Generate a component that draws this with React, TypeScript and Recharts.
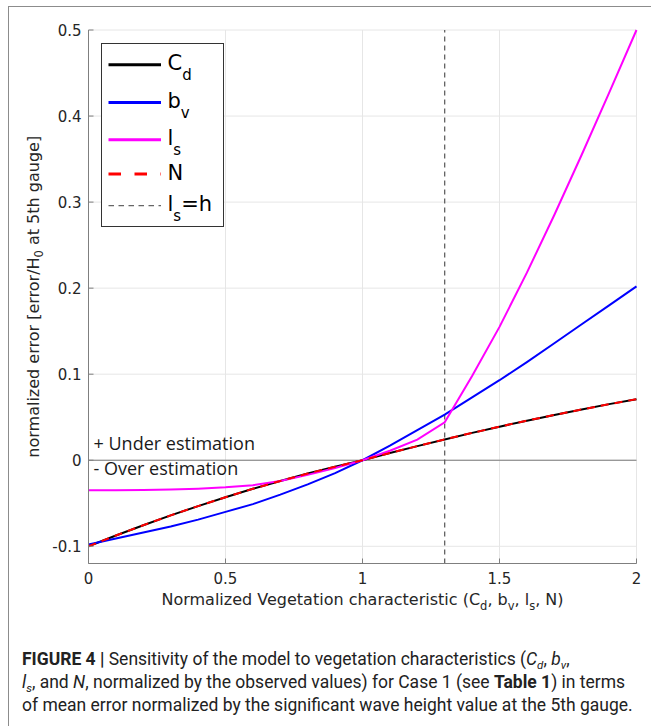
import { CartesianGrid, Legend, Line, LineChart, ReferenceLine, XAxis, YAxis } from "recharts";

// normalized vegetation characteristic (x) and mean error normalized by H0 at the 5th gauge
const xs = [0, 0.1, 0.2, 0.3, 0.4, 0.5, 0.6, 0.7, 0.8, 0.9, 1, 1.1, 1.2, 1.3, 1.4, 1.5, 1.6, 1.7, 1.8, 1.9, 2];
const cd = [-0.1, -0.0875, -0.0755, -0.0641, -0.0533, -0.043, -0.0332, -0.0241, -0.0155, -0.0075, 0, 0.0084, 0.0164, 0.0242, 0.0318, 0.039, 0.046, 0.0526, 0.059, 0.0652, 0.071];
const bv = [-0.098, -0.091, -0.084, -0.077, -0.069, -0.06, -0.051, -0.04, -0.028, -0.015, 0, 0.017, 0.035, 0.053, 0.073, 0.093, 0.114, 0.136, 0.158, 0.18, 0.202];
const ls = [-0.035, -0.035, -0.0345, -0.034, -0.033, -0.0315, -0.029, -0.024, -0.017, -0.009, 0, 0.011, 0.024, 0.044, 0.098, 0.155, 0.218, 0.285, 0.355, 0.427, 0.5];
const nv = [-0.1, -0.0875, -0.0755, -0.0641, -0.0533, -0.043, -0.0332, -0.0241, -0.0155, -0.0075, 0, 0.0084, 0.0164, 0.0242, 0.0318, 0.039, 0.046, 0.0526, 0.059, 0.0652, 0.071];

const xTicks = [0, 0.5, 1, 1.5, 2];
const yTicks = [-0.1, 0, 0.1, 0.2, 0.3, 0.4, 0.5];
const lsEqualsH = 1.3;

const data = xs.map((x, i) => ({ x, cd: cd[i], bv: bv[i], ls: ls[i], n: nv[i] }));

const FONT = "DejaVu Sans";
const INK = "#262626";
const BOX = "#7f7f7f";

function BottomTick({ x, y, payload }: any) {
  return (
    <g>
      <line x1={x} y1={y} x2={x} y2={y - 5} stroke={BOX} />
      <text x={x} y={y + 20.5} textAnchor="middle" fontSize={15} fontFamily={FONT} fill={INK}>
        {payload.value}
      </text>
    </g>
  );
}

function LeftTick({ x, y, payload }: any) {
  return (
    <g>
      <line x1={x} y1={y} x2={x + 5} y2={y} stroke={BOX} />
      <text x={x - 7} y={y + 5.5} textAnchor="end" fontSize={15} fontFamily={FONT} fill={INK}>
        {payload.value}
      </text>
    </g>
  );
}

const TopTick = ({ x, y }: any) => <line x1={x} y1={y} x2={x} y2={y + 5} stroke={BOX} />;
const RightTick = ({ x, y }: any) => <line x1={x} y1={y} x2={x - 5} y2={y} stroke={BOX} />;

function XLabel({ viewBox }: any) {
  return (
    <text x={viewBox.x + viewBox.width / 2} y={viewBox.y + 41.5} textAnchor="middle" fontSize={16} fontFamily={FONT} fill={INK}>
      Normalized Vegetation characteristic (C
      <tspan fontSize={11.5} dy={4.5}>d</tspan>
      <tspan dy={-4.5}>, b</tspan>
      <tspan fontSize={11.5} dy={4.5}>v</tspan>
      <tspan dy={-4.5}>, l</tspan>
      <tspan fontSize={11.5} dy={4.5}>s</tspan>
      <tspan dy={-4.5}>, N)</tspan>
    </text>
  );
}

function YLabel({ viewBox }: any) {
  const cx = viewBox.x + 10;
  const cy = viewBox.y + viewBox.height / 2;
  return (
    <text x={cx} y={cy} transform={`rotate(-90, ${cx}, ${cy})`} textAnchor="middle" fontSize={16} fontFamily={FONT} fill={INK}>
      normalized error [error/H
      <tspan fontSize={11.5} dy={4.5}>0</tspan>
      <tspan dy={-4.5}> at 5th gauge]</tspan>
    </text>
  );
}

function ZeroNotes({ viewBox }: any) {
  const x = viewBox.x + 5;
  const y = viewBox.y;
  return (
    <g fontFamily="Open Sans" fontSize={18} fill="#1a1a1a">
      <text x={x} y={y - 10}>+ Under estimation</text>
      <text x={x} y={y + 15}>- Over estimation</text>
    </g>
  );
}

const legendOrder = ["cd", "bv", "ls", "n"];
const legendNames: Record<string, [string, string, string]> = {
  cd: ["C", "d", ""],
  bv: ["b", "v", ""],
  ls: ["l", "s", ""],
  n: ["N", "", ""],
};
const legendRowY = [20.7, 58.4, 95.7, 130, 161.7];

function renderLegend(props: any) {
  const payload = [...(props.payload || [])].sort(
    (a: any, b: any) => legendOrder.indexOf(a.dataKey) - legendOrder.indexOf(b.dataKey)
  );
  const rows = payload.map((p: any) => ({
    name: legendNames[p.dataKey] || [String(p.value), "", ""],
    color: p.color,
    dash: p.dataKey === "n" ? "12.5 13.5" : undefined,
    width: 3,
  }));
  rows.push({ name: ["l", "s", "=h"], color: "#666666", dash: "5.5 4.5", width: 1.2 });
  return (
    <div style={{ border: "1.3px solid #333", background: "#fff", width: 121, height: 182 }}>
      <svg width={121} height={182}>
        {rows.map((r: any, i: number) => {
          const y = legendRowY[i];
          return (
            <g key={i}>
              <line x1={6.5} x2={59} y1={y} y2={y} stroke={r.color} strokeWidth={r.width} strokeDasharray={r.dash} />
              <text x={65.5} y={y + 5.5} fontSize={21} fontFamily={FONT} fill="#000">
                {r.name[0]}
                {r.name[1] ? <tspan fontSize={15} dy={10}>{r.name[1]}</tspan> : null}
                {r.name[2] ? <tspan dy={-10}>{r.name[2]}</tspan> : null}
              </text>
            </g>
          );
        })}
      </svg>
    </div>
  );
}

const subStyle = { fontSize: 11.5, position: "relative" as const, top: 4, lineHeight: 0 };

export default function App() {
  return (
    <div style={{ position: "absolute", left: 0, top: 0, width: 651, height: 726, background: "#fff", overflow: "hidden" }}>
      <div style={{ position: "absolute", left: 8, top: 6, width: 650, height: 730, borderTop: "1px solid #8c8c8c", borderLeft: "1px solid #8c8c8c" }} />
      <div style={{ position: "absolute", left: 0, top: 0 }}>
        <LineChart width={651} height={620} data={data} margin={{ top: 30, right: 14.5, left: 28.5, bottom: 26.5 }}>
          <CartesianGrid stroke="#e6e6e6" strokeWidth={1} />
          <XAxis
            dataKey="x"
            type="number"
            domain={[0, 2]}
            ticks={xTicks}
            height={30}
            tickSize={0}
            tickMargin={0}
            tickLine={false}
            axisLine={{ stroke: BOX }}
            tick={<BottomTick />}
            label={XLabel}
          />
          <XAxis
            xAxisId="top"
            orientation="top"
            type="number"
            domain={[0, 2]}
            ticks={xTicks}
            height={0}
            tickSize={0}
            tickMargin={0}
            tickLine={false}
            axisLine={{ stroke: BOX }}
            tick={<TopTick />}
          />
          <YAxis
            type="number"
            domain={[-0.12, 0.5]}
            ticks={yTicks}
            width={60}
            tickSize={0}
            tickMargin={0}
            tickLine={false}
            axisLine={{ stroke: BOX }}
            tick={<LeftTick />}
            label={YLabel}
          />
          <YAxis
            yAxisId="right"
            orientation="right"
            type="number"
            domain={[-0.12, 0.5]}
            ticks={yTicks}
            width={0}
            tickSize={0}
            tickMargin={0}
            tickLine={false}
            axisLine={{ stroke: BOX }}
            tick={<RightTick />}
          />
          <ReferenceLine y={0} stroke="#7a7a7a" strokeWidth={1} label={ZeroNotes} />
          <ReferenceLine x={lsEqualsH} stroke="#555" strokeWidth={1.2} strokeDasharray="5 4" />
          <Line dataKey="cd" name="Cd" stroke="#000000" strokeWidth={2} dot={false} activeDot={false} isAnimationActive={false} />
          <Line dataKey="bv" name="bv" stroke="#0000ff" strokeWidth={2} dot={false} activeDot={false} isAnimationActive={false} />
          <Line dataKey="ls" name="ls" stroke="#ff00ff" strokeWidth={2} dot={false} activeDot={false} isAnimationActive={false} />
          <Line dataKey="n" name="N" stroke="#ff0000" strokeWidth={2} strokeDasharray="8 6" dot={false} activeDot={false} isAnimationActive={false} />
          <Legend
            layout="horizontal"
            verticalAlign="middle"
            align="center"
            content={renderLegend}
            wrapperStyle={{ position: "absolute", left: 101, top: 43, width: 123, height: 184 }}
          />
        </LineChart>
      </div>
      <div
        style={{
          position: "absolute",
          left: 22,
          top: 648,
          fontFamily: "Roboto",
          fontSize: 17.5,
          lineHeight: "23px",
          color: "#222",
          whiteSpace: "nowrap",
        }}
      >
        <div>
          <b>FIGURE 4 |</b> Sensitivity of the model to vegetation characteristics (<i>C</i>
          <span style={subStyle}>
            <i>d</i>
          </span>
          , <i>b</i>
          <span style={subStyle}>
            <i>v</i>
          </span>
          ,
        </div>
        <div>
          <i>l</i>
          <span style={subStyle}>
            <i>s</i>
          </span>
          , and <i>N</i>, normalized by the observed values) for Case 1 (see <b>Table 1</b>) in terms
        </div>
        <div>of mean error normalized by the significant wave height value at the 5th gauge.</div>
      </div>
    </div>
  );
}
